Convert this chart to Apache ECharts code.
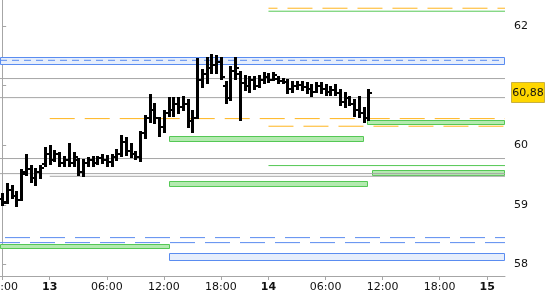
<!DOCTYPE html>
<html><head><meta charset="utf-8">
<script src="https://cdn.jsdelivr.net/npm/echarts@6/dist/echarts.min.js"></script>
<style>html,body{margin:0;padding:0;background:#fff}#c{width:550px;height:300px}</style>
</head><body><div id="c"></div><script>
// x unit: trading hours since 12th 18:00 (market closed 23:00-00:00, 23 h per day)
const xTickHours  = [0, 5, 11, 17, 23, 28, 34, 40, 46, 51];
const xTickLabels = ['18:00','13','06:00','12:00','18:00','14','06:00','12:00','18:00','15'];
const dayLabels   = ['13','14','15'];
const xMin = -0.23, xMax = 52.87;
const yMin = 57.807, yMax = 62.438;
const yTickValues  = [58, 59, 60, 61, 62];
const yLabelValues = [58, 59, 60, 62];

// 30-minute OHLC bars, first bar at 12th 18:00
const firstBarHour = 0, barStepHours = 0.5;
const ohlc = [
 [59.10,59.19,58.99,59.04],[59.05,59.35,59.04,59.25],[59.25,59.31,59.11,59.15],[59.15,59.21,58.98,59.08],
 [59.08,59.58,59.08,59.52],[59.55,59.83,59.50,59.60],[59.60,59.65,59.38,59.45],[59.45,59.61,59.33,59.55],
 [59.55,59.66,59.45,59.62],[59.68,59.95,59.66,59.85],[59.85,59.98,59.68,59.75],[59.75,59.90,59.73,59.85],
 [59.85,59.87,59.65,59.70],[59.70,59.80,59.66,59.75],[59.75,60.03,59.66,59.70],[59.70,59.87,59.66,59.80],
 [59.75,59.77,59.51,59.55],[59.55,59.75,59.48,59.70],[59.70,59.78,59.66,59.75],[59.75,59.80,59.65,59.70],
 [59.70,59.80,59.68,59.78],[59.78,59.83,59.71,59.75],[59.75,59.82,59.66,59.72],[59.72,59.83,59.65,59.80],
 [59.80,59.92,59.75,59.85],[59.85,60.15,59.82,60.05],[60.05,60.12,59.83,59.90],[59.90,60.03,59.80,59.85],
 [59.85,59.88,59.77,59.80],[59.80,60.23,59.73,60.20],[60.20,60.50,60.13,60.45],[60.45,60.84,60.39,60.60],
 [60.60,60.70,60.37,60.45],[60.45,60.45,60.15,60.30],[60.30,60.57,60.23,60.55],[60.55,60.79,60.50,60.60],
 [60.60,60.79,60.50,60.70],[60.70,60.79,60.55,60.65],[60.65,60.81,60.59,60.70],[60.70,60.76,60.31,60.40],
 [60.40,60.57,60.22,60.45],[60.45,61.45,60.45,61.10],[61.10,61.26,60.98,61.20],[61.20,61.46,61.04,61.30],
 [61.30,61.51,61.21,61.35],[61.35,61.49,61.21,61.40],[61.40,61.46,61.12,61.15],[61.00,61.06,60.71,60.80],
 [60.80,61.31,60.76,61.25],[61.25,61.46,61.12,61.30],[61.20,61.23,60.42,61.05],[61.05,61.17,60.92,61.00],
 [61.00,61.15,60.89,61.10],[61.10,61.15,60.95,61.00],[61.00,61.16,60.98,61.10],[61.10,61.21,61.04,61.15],
 [61.15,61.19,61.06,61.10],[61.10,61.21,61.10,61.18],[61.12,61.14,61.05,61.08],[61.08,61.12,61.04,61.06],
 [61.06,61.10,60.87,60.95],[60.95,61.06,60.89,61.00],[61.00,61.06,60.95,61.02],[61.02,61.06,60.92,60.98],
 [60.98,61.04,60.88,60.95],[60.95,61.01,60.82,60.90],[60.90,61.04,60.89,61.00],[61.00,61.04,60.88,60.95],
 [60.95,61.01,60.84,60.90],[60.90,60.98,60.84,60.92],[60.92,61.01,60.84,60.88],[60.88,60.92,60.67,60.72],
 [60.72,60.87,60.64,60.80],[60.80,60.81,60.67,60.70],[60.70,60.76,60.50,60.60],[60.60,60.81,60.47,60.55],
 [60.55,60.62,60.39,60.45],[60.45,60.92,60.42,60.88]
];
const lastPrice = 60.88;

// horizontal levels: [value, fromHour, toHour]  (null = chart edge)
const grayLevels   = [[61.12,null,null],[60.80,null,null],[59.778,null,null],[59.525,null,null],[59.48,5,null]];
const orangeLevels = [[62.30,28,null],[60.448,5,null],[60.32,28,null]];
const greenLevels  = [[62.25,28,null],[59.66,28,null]];
const blueDashLevels = [[61.426,null,null],[58.451,null,null],[58.367,null,null]];
// zones: [top, bottom, fromHour, toHour]
const greenZones = [[60.151,60.055,17.5,38.0],[60.431,60.336,38.4,null],[59.396,59.300,17.5,38.42],[59.580,59.485,38.9,null],[58.350,58.260,null,17.6]];
const blueZones  = [[61.477,61.342,null,null],[58.200,58.065,17.5,null]];

const C = {gray:'#a6a6a6', orange:'#ffb51e', green:'#55c855', greenFill:'#b4eab0', blue:'#5a8cf0', blueFill:'#e6eefc', label:'#111'};
const FONT = 'DejaVu Sans';

function edge(v, d){ return v == null ? d : v; }
function levelSeries(list, color, dashes, width){
  return list.map((l, i) => ({
    type:'line', silent:true, symbol:'none', animation:false, z:4,
    data:[[edge(l[1], xMin), l[0]], [edge(l[2], xMax), l[0]]],
    lineStyle:{color:color, width:width||1, type: dashes ? dashes[i].dash : 'solid', dashOffset: dashes ? dashes[i].off : 0}
  }));
}
function zoneSeries(list, stroke, fill){
  return {
    type:'custom', silent:true, animation:false, z:2,
    data: list.map(z => [edge(z[2], xMin), edge(z[3], xMax), z[0], z[1]]),
    renderItem(params, api){
      const p1 = api.coord([api.value(0), api.value(2)]);
      const p2 = api.coord([api.value(1), api.value(3)]);
      const x1 = Math.round(p1[0]) + 0.5, x2 = Math.round(p2[0]) - 0.5;
      const y1 = Math.round(p1[1]) + 0.5, y2 = Math.round(p2[1]) - 0.5;
      return {type:'rect', shape:{x:x1, y:y1, width:x2-x1, height:y2-y1},
        style:{fill:fill, stroke:stroke, lineWidth:1}};
    }
  };
}

const barSeries = {
  type:'custom', animation:false, z:10,
  data: ohlc.map((b, i) => [firstBarHour + i*barStepHours, b[0], b[1], b[2], b[3]]),
  encode:{x:0, y:[1,2,3,4]},
  renderItem(params, api){
    const x = api.value(0);
    const px = Math.round(api.coord([x, api.value(1)])[0]) + 0.5;
    const yo = Math.round(api.coord([x, api.value(1)])[1]);
    const yh = Math.round(api.coord([x, api.value(2)])[1]);
    const yl = Math.round(api.coord([x, api.value(3)])[1]);
    const yc = Math.round(api.coord([x, api.value(4)])[1]);
    return {type:'group', children:[
      {type:'line', shape:{x1:px, y1:yh-1, x2:px, y2:yl+1}, style:{stroke:'#000', lineWidth:3}},
      {type:'line', shape:{x1:px-3.5, y1:yo, x2:px, y2:yo}, style:{stroke:'#000', lineWidth:2}},
      {type:'line', shape:{x1:px, y1:yc, x2:px+3.5, y2:yc}, style:{stroke:'#000', lineWidth:2}}
    ]};
  }
};

const priceLabel = {
  type:'custom', animation:false, z:20, clip:false, silent:true,
  data:[[xMax, lastPrice]],
  renderItem(params, api){
    const cs = params.coordSys;
    const y = Math.round(api.coord([api.value(0), api.value(1)])[1]);
    const x0 = cs.x + cs.width + 6;
    return {type:'group', children:[
      {type:'rect', shape:{x:x0+0.5, y:y-10.5, width:33, height:20}, style:{fill:'#ffd700', stroke:'#c8b040', lineWidth:1}},
      {type:'text', style:{x:x0+17, y:y, text:String(lastPrice.toFixed(2)).replace('.', ','), fill:'#111',
        font:'11px "' + FONT + '"', align:'center', verticalAlign:'middle'}}
    ]};
  }
};

const orangeDash = [{dash:[25,10], off:16},{dash:[25,10], off:0},{dash:[25,10], off:0}];
const blueDash = [{dash:[7,5], off:0},{dash:[25,10], off:30},{dash:[25,10], off:5}];

const chart = echarts.init(document.getElementById('c'), null, {renderer:'canvas'});
chart.setOption({
  animation:false,
  backgroundColor:'#fff',
  grid:{left:0, right:45, top:0, bottom:24, containLabel:false, outerBoundsMode:'none'},
  xAxis:{
    type:'value', min:xMin, max:xMax,
    axisLine:{show:true, lineStyle:{color:C.gray, width:1}},
    axisTick:{show:true, customValues:xTickHours, length:4, lineStyle:{color:C.gray}},
    axisLabel:{customValues:xTickHours, margin:6, fontSize:11, fontFamily:FONT, color:C.label,
      formatter(v){ const i = xTickHours.indexOf(v); const t = i < 0 ? '' : xTickLabels[i];
        return dayLabels.indexOf(t) >= 0 ? '{b|' + t + '}' : t; },
      rich:{b:{fontWeight:'bold', fontSize:11, fontFamily:FONT, color:C.label}}},
    splitLine:{show:false}
  },
  yAxis:{
    type:'value', position:'right', min:yMin, max:yMax,
    axisLine:{show:true, lineStyle:{color:C.gray, width:1}},
    axisTick:{show:true, customValues:yTickValues, length:4, lineStyle:{color:C.gray}},
    axisLabel:{customValues:yLabelValues, margin:9, fontSize:11, fontFamily:FONT, color:C.label},
    splitLine:{show:false}
  },
  series:[
    zoneSeries(blueZones, C.blue, C.blueFill),
    zoneSeries(greenZones, C.green, C.greenFill),
    ...levelSeries(grayLevels, C.gray),
    ...levelSeries(orangeLevels, C.orange, orangeDash),
    ...levelSeries(greenLevels, C.green),
    ...levelSeries(blueDashLevels, C.blue, blueDash),
    barSeries,
    priceLabel
  ]
});
</script></body></html>
